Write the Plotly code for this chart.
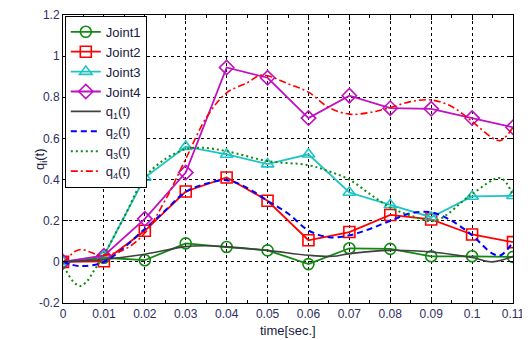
import plotly.graph_objects as go

# Joint sample points
t_joint = [0, 0.01, 0.02, 0.03, 0.04, 0.05, 0.06, 0.07, 0.08, 0.09, 0.10, 0.11]
joint1 = [0, 0.02, 0.008, 0.09, 0.072, 0.056, -0.011, 0.066, 0.063, 0.027, 0.027, 0.024]
joint2 = [0, 0.003, 0.151, 0.342, 0.41, 0.297, 0.105, 0.145, 0.228, 0.206, 0.133, 0.096]
joint3 = [0, 0.03, 0.41, 0.56, 0.522, 0.475, 0.523, 0.337, 0.277, 0.217, 0.318, 0.321]
joint4 = [0, 0.03, 0.209, 0.434, 0.945, 0.895, 0.699, 0.808, 0.747, 0.744, 0.699, 0.654]

# Smooth trajectories, values
t_q1 = [0, 0.01, 0.02, 0.03, 0.035, 0.04, 0.05, 0.06, 0.066, 0.07, 0.08, 0.09, 0.10, 0.105, 0.11]
q1 = [0, 0.012, 0.037, 0.074, 0.078, 0.073, 0.056, 0.032, 0.027, 0.04, 0.056, 0.048, 0.021, 0.0, 0.027]

t_q2 = [0, 0.004, 0.01, 0.02, 0.025, 0.03, 0.035, 0.04, 0.045, 0.05, 0.055, 0.06, 0.065, 0.07,
        0.075, 0.08, 0.085, 0.09, 0.095, 0.10, 0.105, 0.107, 0.11]
q2 = [0, -0.02, 0.0, 0.16, 0.25, 0.34, 0.38, 0.397, 0.36, 0.297, 0.235, 0.153, 0.12, 0.129,
      0.16, 0.2, 0.236, 0.241, 0.2, 0.129, 0.04, 0.032, 0.096]

t_q3 = [0, 0.0005, 0.0025, 0.0042, 0.0058, 0.0074, 0.0095, 0.015, 0.02, 0.025, 0.03, 0.034,
        0.04, 0.05, 0.06, 0.065, 0.07, 0.075, 0.08, 0.085, 0.091, 0.10, 0.107, 0.11]
q3 = [0, -0.03, -0.096, -0.117, -0.096, -0.048, 0.016, 0.22, 0.41, 0.5, 0.548, 0.555,
      0.538, 0.49, 0.47, 0.44, 0.4, 0.33, 0.265, 0.225, 0.2, 0.33, 0.407, 0.321]

t_q4 = [0, 0.0011, 0.0027, 0.0045, 0.0066, 0.009, 0.015, 0.02, 0.025, 0.03, 0.035, 0.04, 0.045,
        0.048, 0.05, 0.055, 0.06, 0.065, 0.07, 0.075, 0.08, 0.085, 0.09, 0.095, 0.10, 0.105,
        0.107, 0.11]
q4 = [0, 0.016, 0.048, 0.06, 0.048, 0.032, 0.06, 0.14, 0.3, 0.5, 0.7, 0.822, 0.87,
      0.906, 0.905, 0.866, 0.825, 0.75, 0.718, 0.726, 0.75, 0.779, 0.787, 0.755, 0.683, 0.602,
      0.59, 0.654]

x_ticks = [0, 0.01, 0.02, 0.03, 0.04, 0.05, 0.06, 0.07, 0.08, 0.09, 0.10, 0.11]
x_ticklabels = ["0", "0.01", "0.02", "0.03", "0.04", "0.05", "0.06", "0.07", "0.08", "0.09", "0.1", "0.11"]
y_ticks = [-0.2, 0, 0.2, 0.4, 0.6, 0.8, 1.0, 1.2]
y_ticklabels = ["-0.2", "0", "0.2", "0.4", "0.6", "0.8", "1", "1.2"]

GREEN = "#108a10"
RED = "#ff0000"
CYAN = "#1cc4c4"
MAGENTA = "#c010c0"

fig = go.Figure()

def joint_trace(y, name, color, symbol):
    return go.Scatter(x=t_joint, y=y, name=name, mode="lines+markers",
                      line=dict(color=color, width=1.8),
                      marker=dict(symbol=symbol, size=11, color=color,
                                  line=dict(color=color, width=1.6)))

fig.add_trace(joint_trace(joint1, "Joint1", GREEN, "circle-open"))
fig.add_trace(joint_trace(joint2, "Joint2", RED, "square-open"))
fig.add_trace(joint_trace(joint3, "Joint3", CYAN, "triangle-up-open"))
fig.add_trace(joint_trace(joint4, "Joint4", MAGENTA, "diamond-open"))

fig.add_trace(go.Scatter(x=t_q1, y=q1, name="q<sub>1</sub>(t)", mode="lines",
                         line=dict(color="#404040", width=1.6, shape="spline")))
fig.add_trace(go.Scatter(x=t_q2, y=q2, name="q<sub>2</sub>(t)", mode="lines",
                         line=dict(color="#0000ff", width=2, dash="6px,4px", shape="spline")))
fig.add_trace(go.Scatter(x=t_q3, y=q3, name="q<sub>3</sub>(t)", mode="lines",
                         line=dict(color=GREEN, width=2, dash="2px,3px", shape="spline")))
fig.add_trace(go.Scatter(x=t_q4, y=q4, name="q<sub>4</sub>(t)", mode="lines",
                         line=dict(color=RED, width=1.6, dash="7px,3px,2px,3px", shape="spline")))

TICKCOL = "#2e2e60"
TITLECOL = "#1a1a40"
# The page body has an 8px default margin, so the figure is sized to fit the 530x340 window.
fig.update_layout(
    width=522, height=332,
    margin=dict(l=55, r=17, t=7, b=37, autoexpand=False),
    paper_bgcolor="white", plot_bgcolor="white",
    font=dict(family="Arial, Liberation Sans, sans-serif", size=12, color=TICKCOL),
    showlegend=True,
    legend=dict(x=0.004, y=0.997, xanchor="left", yanchor="top",
                bgcolor="white", bordercolor="black", borderwidth=1,
                font=dict(size=13, color=TITLECOL), tracegroupgap=0),
    xaxis=dict(range=[0, 0.11], tickvals=x_ticks, ticktext=x_ticklabels,
               showgrid=True, gridcolor="#000000", gridwidth=1, griddash="3px,3px",
               showline=True, linecolor="black", linewidth=1, mirror="ticks",
               ticks="inside", ticklen=5, tickcolor="black", automargin=False,
               ticklabeloverflow="allow",
               minor=dict(dtick=0.005, ticks="inside", ticklen=3, tickcolor="black", showgrid=False),
               zeroline=False,
               tickfont=dict(size=12, color=TICKCOL)),
    yaxis=dict(range=[-0.2, 1.2], tickvals=y_ticks, ticktext=y_ticklabels,
               showgrid=True, gridcolor="#000000", gridwidth=1, griddash="3px,3px",
               showline=True, linecolor="black", linewidth=1, mirror="ticks",
               ticks="inside", ticklen=5, tickcolor="black", automargin=False,
               ticklabeloverflow="allow",
               zeroline=False,
               tickfont=dict(size=12, color=TICKCOL)),
    annotations=[
        dict(text="time[sec.]", xref="paper", yref="paper", x=0.5, y=-0.095,
             xanchor="center", yanchor="middle", showarrow=False,
             font=dict(size=13, color=TITLECOL)),
        dict(text="q<sub>i</sub>(t)", xref="paper", yref="paper", x=-0.051, y=0.5,
             xanchor="center", yanchor="middle", showarrow=False, textangle=-90,
             font=dict(size=13, color=TITLECOL)),
    ],
)

fig.write_html("out.html")
